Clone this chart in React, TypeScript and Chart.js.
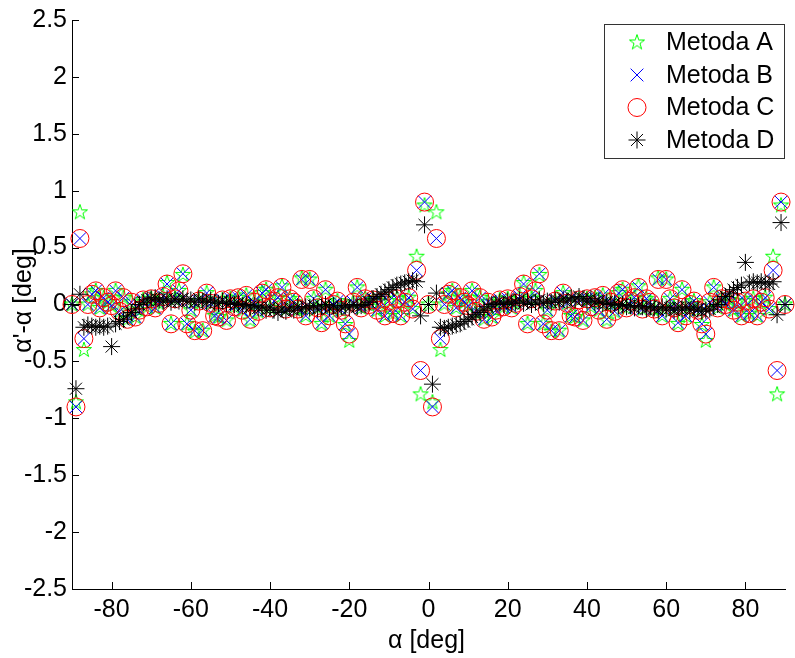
import React, { useEffect, useRef } from 'react';
import { Chart, registerables } from 'chart.js';

Chart.register(...registerables);

// ---- data (angle in degrees, error in degrees) ----
const alphaDeg = [
  -90, -89, -88, -87, -86, -85, -84, -83, -82, -81,
  -80, -79, -78, -77, -76, -75, -74, -73, -72, -71,
  -70, -69, -68, -67, -66, -65, -64, -63, -62, -61,
  -60, -59, -58, -57, -56, -55, -54, -53, -52, -51,
  -50, -49, -48, -47, -46, -45, -44, -43, -42, -41,
  -40, -39, -38, -37, -36, -35, -34, -33, -32, -31,
  -30, -29, -28, -27, -26, -25, -24, -23, -22, -21,
  -20, -19, -18, -17, -16, -15, -14, -13, -12, -11,
  -10, -9, -8, -7, -6, -5, -4, -3, -2, -1,
  0, 1, 2, 3, 4, 5, 6, 7, 8, 9,
  10, 11, 12, 13, 14, 15, 16, 17, 18, 19,
  20, 21, 22, 23, 24, 25, 26, 27, 28, 29,
  30, 31, 32, 33, 34, 35, 36, 37, 38, 39,
  40, 41, 42, 43, 44, 45, 46, 47, 48, 49,
  50, 51, 52, 53, 54, 55, 56, 57, 58, 59,
  60, 61, 62, 63, 64, 65, 66, 67, 68, 69,
  70, 71, 72, 73, 74, 75, 76, 77, 78, 79,
  80, 81, 82, 83, 84, 85, 86, 87, 88, 89,
  90,
];

const metodaA = [
  0.00, -0.86, 0.81, -0.40, 0.00, 0.09, 0.12, -0.03, 0.06, 0.02,
  -0.01, 0.12, -0.06, 0.06, -0.13, 0.02, -0.11, -0.05, 0.04, -0.02,
  0.05, -0.03, 0.01, 0.07, 0.19, -0.17, 0.05, 0.12, 0.26, -0.17,
  -0.05, -0.24, 0.03, -0.23, 0.10, 0.01, -0.10, -0.11, 0.04, -0.14,
  0.05, -0.02, 0.06, -0.05, 0.08, -0.14, 0.02, -0.06, 0.10, 0.13,
  -0.03, 0.03, 0.06, 0.16, -0.04, 0.05, 0.02, -0.04, 0.23, -0.10,
  0.22, 0.05, -0.03, -0.17, 0.13, -0.10, 0.00, 0.03, -0.05, -0.18,
  -0.32, 0.02, 0.15, -0.03, 0.05, 0.00, 0.04, -0.05, 0.02, -0.10,
  0.03, -0.08, 0.05, -0.10, 0.02, 0.06, -0.04, 0.42, -0.79, 0.87,
  0.00, -0.86, 0.81, -0.40, 0.00, 0.09, 0.12, -0.03, 0.06, 0.02,
  -0.01, 0.12, -0.06, 0.06, -0.13, 0.02, -0.11, -0.05, 0.04, -0.02,
  0.05, -0.03, 0.01, 0.07, 0.19, -0.17, 0.05, 0.12, 0.26, -0.17,
  -0.05, -0.24, 0.03, -0.23, 0.10, 0.01, -0.10, -0.11, 0.04, -0.14,
  0.05, -0.02, 0.06, -0.05, 0.08, -0.14, 0.02, -0.06, 0.10, 0.13,
  -0.03, 0.03, 0.06, 0.16, -0.04, 0.05, 0.02, -0.04, 0.23, -0.10,
  0.22, 0.05, -0.03, -0.17, 0.13, -0.10, 0.00, 0.03, -0.05, -0.18,
  -0.32, 0.02, 0.15, -0.03, 0.05, 0.00, 0.04, -0.05, 0.02, -0.10,
  0.03, -0.08, 0.05, -0.10, 0.02, 0.06, -0.04, 0.42, -0.79, 0.87,
  0.00,
];

const metodaB = [
  0.00, -0.90, 0.58, -0.30, 0.00, 0.09, 0.12, -0.03, 0.06, 0.02,
  -0.01, 0.12, -0.06, 0.06, -0.13, 0.02, -0.11, -0.05, 0.04, -0.02,
  0.05, -0.03, 0.01, 0.07, 0.18, -0.17, 0.05, 0.12, 0.27, -0.17,
  -0.05, -0.23, 0.03, -0.23, 0.10, 0.01, -0.10, -0.11, 0.04, -0.14,
  0.05, -0.02, 0.06, -0.05, 0.08, -0.13, 0.02, -0.06, 0.10, 0.13,
  -0.03, 0.03, 0.06, 0.15, -0.04, 0.05, 0.02, -0.04, 0.22, -0.10,
  0.22, 0.05, -0.03, -0.16, 0.13, -0.10, 0.00, 0.03, -0.05, -0.17,
  -0.26, 0.02, 0.15, -0.03, 0.05, 0.00, 0.04, -0.05, 0.02, -0.10,
  0.03, -0.08, 0.05, -0.10, 0.02, 0.06, -0.04, 0.30, -0.58, 0.90,
  0.00, -0.90, 0.58, -0.30, 0.00, 0.09, 0.12, -0.03, 0.06, 0.02,
  -0.01, 0.12, -0.06, 0.06, -0.13, 0.02, -0.11, -0.05, 0.04, -0.02,
  0.05, -0.03, 0.01, 0.07, 0.18, -0.17, 0.05, 0.12, 0.27, -0.17,
  -0.05, -0.23, 0.03, -0.23, 0.10, 0.01, -0.10, -0.11, 0.04, -0.14,
  0.05, -0.02, 0.06, -0.05, 0.08, -0.13, 0.02, -0.06, 0.10, 0.13,
  -0.03, 0.03, 0.06, 0.15, -0.04, 0.05, 0.02, -0.04, 0.22, -0.10,
  0.22, 0.05, -0.03, -0.16, 0.13, -0.10, 0.00, 0.03, -0.05, -0.17,
  -0.26, 0.02, 0.15, -0.03, 0.05, 0.00, 0.04, -0.05, 0.02, -0.10,
  0.03, -0.08, 0.05, -0.10, 0.02, 0.06, -0.04, 0.30, -0.58, 0.90,
  0.00,
];

const metodaC = [
  0.00, -0.90, 0.58, -0.30, 0.00, 0.09, 0.12, -0.03, 0.06, 0.02,
  -0.01, 0.12, -0.06, 0.06, -0.13, 0.02, -0.11, -0.05, 0.04, -0.02,
  0.05, -0.03, 0.01, 0.07, 0.18, -0.17, 0.05, 0.12, 0.27, -0.17,
  -0.05, -0.23, 0.03, -0.23, 0.10, 0.01, -0.10, -0.11, 0.04, -0.14,
  0.05, -0.02, 0.06, -0.05, 0.08, -0.13, 0.02, -0.06, 0.10, 0.13,
  -0.03, 0.03, 0.06, 0.15, -0.04, 0.05, 0.02, -0.04, 0.22, -0.10,
  0.22, 0.05, -0.03, -0.16, 0.13, -0.10, 0.00, 0.03, -0.05, -0.17,
  -0.26, 0.02, 0.15, -0.03, 0.05, 0.00, 0.04, -0.05, 0.02, -0.10,
  0.03, -0.08, 0.05, -0.10, 0.02, 0.06, -0.04, 0.30, -0.58, 0.90,
  0.00, -0.90, 0.58, -0.30, 0.00, 0.09, 0.12, -0.03, 0.06, 0.02,
  -0.01, 0.12, -0.06, 0.06, -0.13, 0.02, -0.11, -0.05, 0.04, -0.02,
  0.05, -0.03, 0.01, 0.07, 0.18, -0.17, 0.05, 0.12, 0.27, -0.17,
  -0.05, -0.23, 0.03, -0.23, 0.10, 0.01, -0.10, -0.11, 0.04, -0.14,
  0.05, -0.02, 0.06, -0.05, 0.08, -0.13, 0.02, -0.06, 0.10, 0.13,
  -0.03, 0.03, 0.06, 0.15, -0.04, 0.05, 0.02, -0.04, 0.22, -0.10,
  0.22, 0.05, -0.03, -0.16, 0.13, -0.10, 0.00, 0.03, -0.05, -0.17,
  -0.26, 0.02, 0.15, -0.03, 0.05, 0.00, 0.04, -0.05, 0.02, -0.10,
  0.03, -0.08, 0.05, -0.10, 0.02, 0.06, -0.04, 0.30, -0.58, 0.90,
  0.00,
];

const metodaD = [
  0.00, -0.74, 0.09, -0.20, -0.18, -0.19, -0.20, -0.19, -0.20, -0.19,
  -0.37, -0.17, -0.15, -0.13, -0.10, -0.07, -0.04, 0.00, 0.02, 0.04,
  0.05, 0.06, 0.04, 0.03, 0.05, 0.02, 0.04, 0.03, 0.05, 0.03,
  0.04, 0.02, 0.05, 0.03, 0.02, 0.04, 0.02, 0.01, 0.03, 0.01,
  0.02, 0.00, 0.01, -0.01, 0.00, -0.02, -0.01, -0.03, -0.02, -0.05,
  -0.03, -0.05, -0.07, -0.04, -0.06, -0.03, -0.05, -0.02, -0.04, -0.02,
  -0.03, -0.01, -0.04, -0.02, 0.00, -0.03, -0.01, -0.04, -0.02, -0.01,
  -0.03, 0.00, -0.02, -0.01, 0.00, 0.02, 0.05, 0.07, 0.09, 0.11,
  0.13, 0.15, 0.17, 0.18, 0.19, 0.20, 0.21, 0.20, -0.10, 0.70,
  0.00, -0.70, 0.10, -0.20, -0.21, -0.20, -0.19, -0.18, -0.17, -0.15,
  -0.13, -0.11, -0.09, -0.07, -0.05, -0.02, 0.00, 0.01, 0.02, 0.00,
  0.03, 0.01, 0.02, 0.04, 0.01, 0.03, 0.00, 0.02, 0.04, 0.01,
  0.03, 0.02, 0.04, 0.02, 0.05, 0.03, 0.06, 0.04, 0.07, 0.05,
  0.03, 0.05, 0.02, 0.03, 0.01, 0.02, 0.00, 0.01, -0.01, 0.00,
  -0.02, -0.01, -0.03, -0.01, -0.02, -0.04, -0.02, -0.03, -0.05, -0.02,
  -0.04, -0.03, -0.05, -0.03, -0.04, -0.02, -0.05, -0.03, -0.04, -0.06,
  -0.05, -0.04, -0.02, 0.00, 0.04, 0.07, 0.10, 0.13, 0.15, 0.17,
  0.37, 0.19, 0.20, 0.19, 0.20, 0.19, 0.18, 0.20, -0.09, 0.72,
  0.00,
];

const xTickValues = [-80, -60, -40, -20, 0, 20, 40, 60, 80];
const yTickValues = [-2.5, -2, -1.5, -1, -0.5, 0, 0.5, 1, 1.5, 2, 2.5];
const seriesLabels = ['Metoda A', 'Metoda B', 'Metoda C', 'Metoda D'];
const seriesColors = ['#00ff00', '#0000ff', '#ff0000', '#000000'];
const xTitle = 'α [deg]';
const yTitle = "α'-α [deg]";

const FONT = "'Liberation Sans', Arial, Helvetica, sans-serif";
const FONT_SIZE = 25;

function makePentagram(color: string, R: number): HTMLCanvasElement {
  const size = Math.ceil(2 * R + 4);
  const c = document.createElement('canvas');
  c.width = size;
  c.height = size;
  const ctx = c.getContext('2d')!;
  const cx = size / 2;
  const cy = size / 2;
  const r = R * 0.382;
  ctx.beginPath();
  for (let k = 0; k < 10; k++) {
    const ang = -Math.PI / 2 + (k * Math.PI) / 5;
    const rad = k % 2 === 0 ? R : r;
    const px = cx + rad * Math.cos(ang);
    const py = cy + rad * Math.sin(ang);
    if (k === 0) ctx.moveTo(px, py);
    else ctx.lineTo(px, py);
  }
  ctx.closePath();
  ctx.strokeStyle = color;
  ctx.lineWidth = 1;
  ctx.stroke();
  return c;
}

function drawLegendMarker(ctx: CanvasRenderingContext2D, idx: number, x: number, y: number, star: HTMLCanvasElement) {
  ctx.save();
  ctx.strokeStyle = seriesColors[idx];
  ctx.lineWidth = 1;
  ctx.beginPath();
  if (idx === 0) {
    ctx.drawImage(star, x - star.width / 2, y - star.height / 2);
  } else if (idx === 1) {
    const d = 9 * Math.SQRT1_2;
    ctx.moveTo(x - d, y - d); ctx.lineTo(x + d, y + d);
    ctx.moveTo(x + d, y - d); ctx.lineTo(x - d, y + d);
    ctx.stroke();
  } else if (idx === 2) {
    ctx.arc(x, y, 9, 0, Math.PI * 2);
    ctx.stroke();
  } else {
    const r = 8.5;
    const d = r * Math.SQRT1_2;
    ctx.moveTo(x - r, y); ctx.lineTo(x + r, y);
    ctx.moveTo(x, y - r); ctx.lineTo(x, y + r);
    ctx.moveTo(x - d, y - d); ctx.lineTo(x + d, y + d);
    ctx.moveTo(x + d, y - d); ctx.lineTo(x - d, y + d);
    ctx.stroke();
  }
  ctx.restore();
}

export default function App() {
  const canvasRef = useRef<HTMLCanvasElement | null>(null);

  useEffect(() => {
    const canvas = canvasRef.current;
    if (!canvas) return;
    const star = makePentagram(seriesColors[0], 8);

    const toPoints = (vals: number[]) => alphaDeg.map((x, i) => ({ x, y: vals[i] }));

    const decor = {
      id: 'matlabDecor',
      afterDatasetsDraw(chart: any) {
        const ctx: CanvasRenderingContext2D = chart.ctx;
        const xs = chart.scales.x;
        const ys = chart.scales.y;
        const area = chart.chartArea;
        ctx.save();
        ctx.strokeStyle = '#000';
        ctx.lineWidth = 1;
        ctx.beginPath();
        xTickValues.forEach((v) => {
          const px = Math.round(xs.getPixelForValue(v)) + 0.5;
          ctx.moveTo(px, area.bottom);
          ctx.lineTo(px, area.bottom - 7);
        });
        yTickValues.forEach((v) => {
          const py = Math.round(ys.getPixelForValue(v)) + 0.5;
          ctx.moveTo(area.left, py);
          ctx.lineTo(area.left + 7, py);
        });
        ctx.stroke();
        ctx.restore();
      },
      afterDraw(chart: any) {
        const ctx: CanvasRenderingContext2D = chart.ctx;
        const area = chart.chartArea;
        ctx.save();
        ctx.fillStyle = '#000';
        ctx.font = `${FONT_SIZE}px ${FONT}`;
        // axis titles
        ctx.textAlign = 'center';
        ctx.textBaseline = 'middle';
        ctx.fillText(xTitle, (area.left + area.right) / 2 - 2, 641);
        ctx.save();
        ctx.translate(24, (area.top + area.bottom) / 2 - 4);
        ctx.rotate(-Math.PI / 2);
        ctx.fillText(yTitle, 0, 0);
        ctx.restore();

        // legend box
        const bx = 604.5, by = 24.5, bw = 180, bh = 134;
        ctx.fillStyle = '#fff';
        ctx.fillRect(bx, by, bw, bh);
        ctx.strokeStyle = '#333';
        ctx.lineWidth = 1;
        ctx.strokeRect(bx, by, bw, bh);
        ctx.fillStyle = '#000';
        ctx.textAlign = 'left';
        ctx.textBaseline = 'middle';
        seriesLabels.forEach((lab, i) => {
          const cy = 42.5 + i * 32.5;
          drawLegendMarker(ctx, i, 637, cy, star);
          ctx.fillStyle = '#000';
          ctx.fillText(lab, 666, cy + 1);
        });
        ctx.restore();
      },
    };

    const chart = new Chart(canvas, {
      type: 'scatter',
      data: {
        datasets: [
          {
            label: seriesLabels[0],
            data: toPoints(metodaA),
            pointStyle: star as any,
            pointRadius: 8,
            borderColor: seriesColors[0],
            backgroundColor: 'rgba(0,0,0,0)',
            order: 4,
            clip: false as any,
          },
          {
            label: seriesLabels[1],
            data: toPoints(metodaB),
            pointStyle: 'crossRot',
            pointRadius: 9,
            pointBorderWidth: 1,
            borderColor: seriesColors[1],
            backgroundColor: 'rgba(0,0,0,0)',
            order: 3,
            clip: false as any,
          },
          {
            label: seriesLabels[2],
            data: toPoints(metodaC),
            pointStyle: 'circle',
            pointRadius: 9,
            pointBorderWidth: 1,
            borderColor: seriesColors[2],
            backgroundColor: 'rgba(0,0,0,0)',
            order: 2,
            clip: false as any,
          },
          {
            label: seriesLabels[3],
            data: toPoints(metodaD),
            pointStyle: 'star',
            pointRadius: 8.5,
            pointBorderWidth: 1,
            borderColor: seriesColors[3],
            backgroundColor: 'rgba(0,0,0,0)',
            order: 1,
            clip: false as any,
          },
        ],
      },
      options: {
        animation: false,
        responsive: true,
        maintainAspectRatio: false,
        events: [],
        layout: { padding: { top: 15, right: 3, left: 0, bottom: 0 } },
        plugins: {
          legend: { display: false },
          tooltip: { enabled: false },
        },
        scales: {
          x: {
            type: 'linear',
            position: 'bottom',
            min: -90,
            max: 90,
            afterBuildTicks: (scale: any) => {
              scale.ticks = xTickValues.map((v) => ({ value: v }));
            },
            afterFit: (scale: any) => {
              scale.height = 69;
            },
            grid: { display: false, drawTicks: false },
            border: { display: true, color: '#000', width: 1 },
            ticks: {
              color: '#000',
              padding: 6,
              maxRotation: 0,
              font: { family: FONT, size: FONT_SIZE },
              callback: (v: any) => String(v),
            },
          },
          y: {
            type: 'linear',
            min: -2.5,
            max: 2.5,
            afterBuildTicks: (scale: any) => {
              scale.ticks = yTickValues.map((v) => ({ value: v }));
            },
            afterFit: (scale: any) => {
              scale.width = 72;
            },
            grid: { display: false, drawTicks: false },
            border: { display: true, color: '#000', width: 1 },
            ticks: {
              color: '#000',
              padding: 5,
              font: { family: FONT, size: FONT_SIZE },
              callback: (v: any) => String(v),
            },
          },
        },
      },
      plugins: [decor],
    });

    return () => {
      chart.destroy();
    };
  }, []);

  return (
    <div style={{ position: 'fixed', left: 0, top: 0, width: 795, height: 658, background: '#fff' }}>
      <canvas ref={canvasRef} />
    </div>
  );
}
